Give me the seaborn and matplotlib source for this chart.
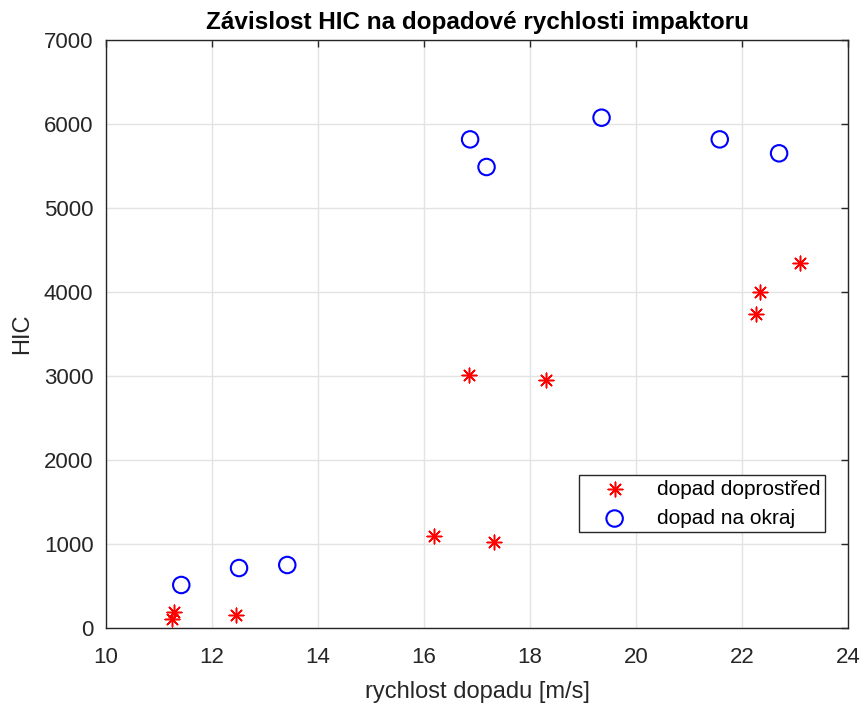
import matplotlib
matplotlib.use("Agg")
import matplotlib.pyplot as plt
import seaborn as sns
import pandas as pd

# data
stred_v = [11.28, 11.25, 12.45, 16.19, 17.32, 16.85, 18.30, 22.26, 22.34, 23.09]
stred_hic = [190, 107, 155, 1095, 1024, 3012, 2952, 3738, 4000, 4345]
okraj_v = [11.42, 12.51, 13.42, 16.87, 17.18, 19.35, 21.58, 22.70]
okraj_hic = [512, 714, 750, 5817, 5488, 6075, 5817, 5651]
x_ticks = [10, 12, 14, 16, 18, 20, 22, 24]
y_ticks = [0, 1000, 2000, 3000, 4000, 5000, 6000, 7000]
label_stred = "dopad doprostřed"
label_okraj = "dopad na okraj"

sns.set_theme(style="white")
plt.rcParams['font.family'] = ['Liberation Sans', 'DejaVu Sans']

fig = plt.figure(figsize=(8.67, 7.09), dpi=100)
ax = fig.add_axes([106/867, 1-628/709, (848-106)/867, (628-40)/709])

df1 = pd.DataFrame({"v": stred_v, "hic": stred_hic})
df2 = pd.DataFrame({"v": okraj_v, "hic": okraj_hic})

sns.scatterplot(data=df1, x="v", y="hic", ax=ax, marker=(8, 2, 0), s=110,
                color="#ff0000", edgecolor="#ff0000", linewidth=1.1, label=label_stred, zorder=3)
sns.scatterplot(data=df2, x="v", y="hic", ax=ax, marker="o", s=140,
                facecolor="none", edgecolor="#0000ff", linewidth=1.5, label=label_okraj, zorder=3)

ax.set_xlim(10, 24)
ax.set_ylim(0, 7000)
ax.set_xticks(x_ticks)
ax.set_yticks(y_ticks)
ax.set_xticklabels([str(t) for t in x_ticks])
ax.set_yticklabels([str(t) for t in y_ticks])
ax.grid(True, color="#e3e3e3", linewidth=1.0)
ax.set_axisbelow(True)
for sp in ax.spines.values():
    sp.set_color("#262626")
    sp.set_linewidth(1.0)
ax.tick_params(axis="both", which="both", direction="in", length=5, width=1,
               color="#262626", top=True, right=True, labelsize=16, labelcolor="#262626")
ax.tick_params(axis="x", pad=14)
ax.tick_params(axis="y", pad=9)

ax.set_xlabel("rychlost dopadu [m/s]", fontsize=17, color="#262626", labelpad=9)
ax.set_ylabel("HIC", fontsize=17, color="#262626", labelpad=8)
ax.set_title("Závislost HIC na dopadové rychlosti impaktoru", fontsize=17.5, fontweight="bold",
             family=["Liberation Sans Narrow", "Liberation Sans", "DejaVu Sans"], color="black", pad=8)

leg = ax.legend(loc="lower right", bbox_to_anchor=(0.969, 0.163), fontsize=15, frameon=True,
                fancybox=False, edgecolor="#262626", framealpha=1, borderpad=0.2,
                handletextpad=0.55, borderaxespad=0, handlelength=3)
leg.get_frame().set_linewidth(1.0)
for t in leg.get_texts():
    t.set_color("black")

fig.savefig("out.png", dpi=100)
